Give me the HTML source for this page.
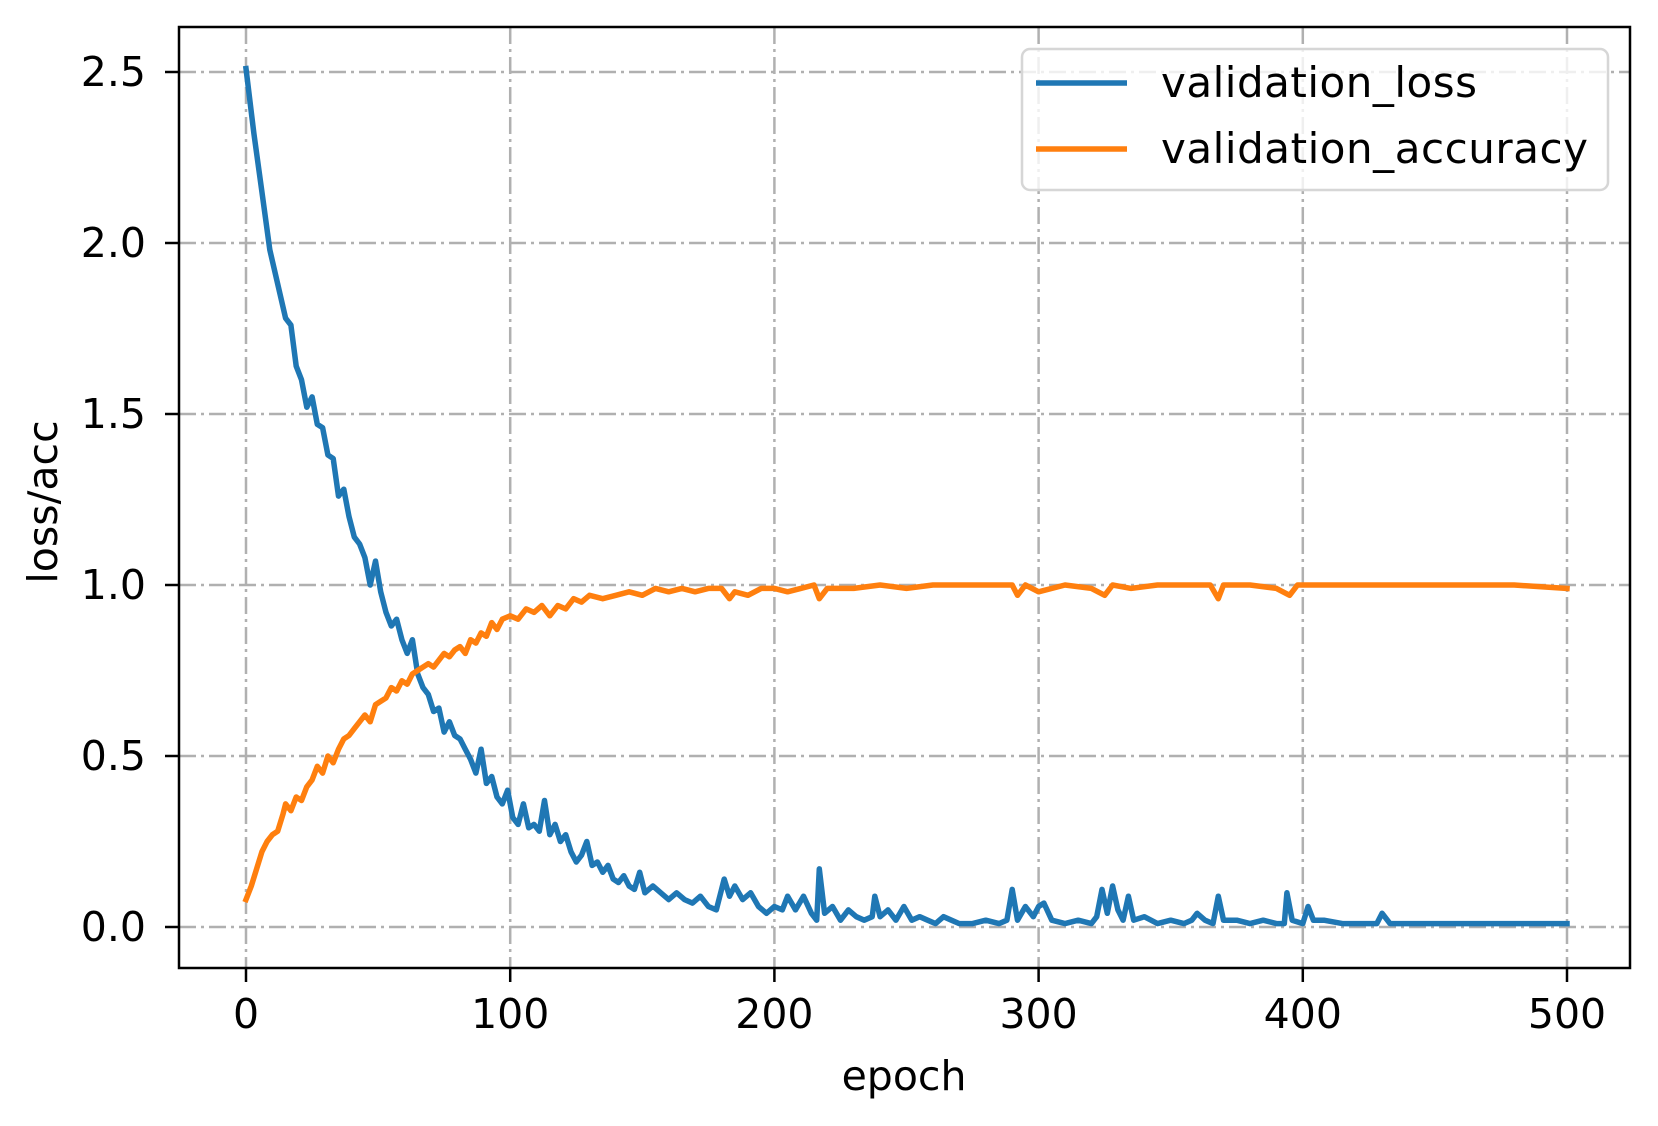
<!DOCTYPE html>
<html><head><meta charset="utf-8"><style>
html,body{margin:0;padding:0;background:#fff;}
svg{display:block;font-family:"DejaVu Sans","Liberation Sans",sans-serif;}
</style></head><body>
<svg id="chart" width="1658" height="1126" viewBox="0 0 1658 1126">
<rect width="1658" height="1126" fill="#fff"/>
<g id="grid"></g>
<g id="series"></g>
<rect x="179" y="27" width="1451" height="941" fill="none" stroke="#000" stroke-width="2.5"/>
<g id="ticks"></g>
<text x="904" y="1090" font-size="41" text-anchor="middle">epoch</text>
<text x="0" y="0" font-size="41" text-anchor="middle" transform="translate(57,502) rotate(-90)">loss/acc</text>
<g>
<rect x="1022" y="49" width="586" height="141" rx="8" fill="#fff" fill-opacity="0.8" stroke="#d6d6d6" stroke-width="2.5"/>
<line x1="1036" y1="83" x2="1127" y2="83" stroke="#1f77b4" stroke-width="5.5"/>
<text x="1161" y="97" font-size="42" textLength="316">validation_loss</text>
<line x1="1036" y1="149" x2="1127" y2="149" stroke="#ff7f0e" stroke-width="5.5"/>
<text x="1161" y="163" font-size="42" textLength="427">validation_accuracy</text>
</g>
</svg>
<script>
const xTicks=[0,100,200,300,400,500];
const yTicks=[0.0,0.5,1.0,1.5,2.0,2.5];
const yTickLabels=["0.0","0.5","1.0","1.5","2.0","2.5"];
const lossEpochs=[0,3,6,9,12,15,17,19,21,23,25,27,29,31,33,35,37,39,41,43,45,47,49,51,53,55,57,59,61,63,65,67,69,71,73,75,77,79,81,83,85,87,89,91,93,95,97,99,101,103,105,107,109,111,113,115,117,119,121,123,125,127,129,131,133,135,137,139,141,143,145,147,149,151,154,157,160,163,166,169,172,175,178,181,183,185,188,191,194,197,200,203,205,208,211,214,216,217,219,222,225,228,231,234,237,238,240,243,246,249,252,255,258,261,264,267,270,275,280,285,288,290,292,295,298,300,302,305,310,315,320,322,324,326,328,330,332,334,336,340,345,350,355,358,360,363,366,368,370,375,380,385,390,393,394,396,400,402,404,408,415,420,428,430,433,440,450,460,470,480,490,500];
const lossValues=[2.51,2.32,2.15,1.98,1.88,1.78,1.76,1.64,1.6,1.52,1.55,1.47,1.46,1.38,1.37,1.26,1.28,1.2,1.14,1.12,1.08,1.0,1.07,0.98,0.92,0.88,0.9,0.84,0.8,0.84,0.74,0.7,0.68,0.63,0.64,0.57,0.6,0.56,0.55,0.52,0.49,0.45,0.52,0.42,0.44,0.38,0.36,0.4,0.32,0.3,0.36,0.29,0.3,0.28,0.37,0.27,0.3,0.25,0.27,0.22,0.19,0.21,0.25,0.18,0.19,0.16,0.18,0.14,0.13,0.15,0.12,0.11,0.16,0.1,0.12,0.1,0.08,0.1,0.08,0.07,0.09,0.06,0.05,0.14,0.09,0.12,0.08,0.1,0.06,0.04,0.06,0.05,0.09,0.05,0.09,0.04,0.02,0.17,0.04,0.06,0.02,0.05,0.03,0.02,0.03,0.09,0.03,0.05,0.02,0.06,0.02,0.03,0.02,0.01,0.03,0.02,0.01,0.01,0.02,0.01,0.02,0.11,0.02,0.06,0.03,0.06,0.07,0.02,0.01,0.02,0.01,0.03,0.11,0.04,0.12,0.05,0.02,0.09,0.02,0.03,0.01,0.02,0.01,0.02,0.04,0.02,0.01,0.09,0.02,0.02,0.01,0.02,0.01,0.01,0.1,0.02,0.01,0.06,0.02,0.02,0.01,0.01,0.01,0.04,0.01,0.01,0.01,0.01,0.01,0.01,0.01,0.01];
const accEpochs=[0,2,4,6,8,10,12,14,15,17,19,21,23,25,27,29,31,33,35,37,39,41,43,45,47,49,51,53,55,57,59,61,63,65,67,69,71,73,75,77,79,81,83,85,87,89,91,93,95,97,100,103,106,109,112,115,118,121,124,127,130,135,140,145,150,155,160,165,170,175,180,183,185,190,195,200,205,210,215,217,220,230,240,250,260,270,280,290,292,295,300,310,320,325,328,335,345,355,365,368,370,380,390,395,398,405,420,440,460,480,500];
const accValues=[0.08,0.12,0.17,0.22,0.25,0.27,0.28,0.33,0.36,0.34,0.38,0.37,0.41,0.43,0.47,0.45,0.5,0.48,0.52,0.55,0.56,0.58,0.6,0.62,0.6,0.65,0.66,0.67,0.7,0.69,0.72,0.71,0.74,0.75,0.76,0.77,0.76,0.78,0.8,0.79,0.81,0.82,0.8,0.84,0.83,0.86,0.85,0.89,0.87,0.9,0.91,0.9,0.93,0.92,0.94,0.91,0.94,0.93,0.96,0.95,0.97,0.96,0.97,0.98,0.97,0.99,0.98,0.99,0.98,0.99,0.99,0.96,0.98,0.97,0.99,0.99,0.98,0.99,1.0,0.96,0.99,0.99,1.0,0.99,1.0,1.0,1.0,1.0,0.97,1.0,0.98,1.0,0.99,0.97,1.0,0.99,1.0,1.0,1.0,0.96,1.0,1.0,0.99,0.97,1.0,1.0,1.0,1.0,1.0,1.0,0.99];

const NS="http://www.w3.org/2000/svg";
const X0=246,X1=1567,Y0=927,Y1=72;
function xs(v){return X0+(v-0)*(X1-X0)/500;}
function ys(v){return Y0-(v-0)*(Y0-Y1)/2.5;}
const grid=document.getElementById('grid'),ticks=document.getElementById('ticks'),series=document.getElementById('series');
function mk(tag,attrs,parent){const e=document.createElementNS(NS,tag);for(const k in attrs)e.setAttribute(k,attrs[k]);parent.appendChild(e);return e;}
xTicks.forEach(t=>{
  const g=mk('line',{x1:xs(t),x2:xs(t),y1:27,y2:968,stroke:'#b0b0b0','stroke-width':2.5,'stroke-dasharray':'17,5,3,5'},grid);
  
  
  const tk=mk('line',{x1:xs(t),x2:xs(t),y1:968,y2:982,stroke:'#000','stroke-width':2.5},ticks);
  
  
  const tx=mk('text',{x:xs(t),y:1028,'font-size':41,'text-anchor':'middle'},ticks);
  tx.textContent=String(t);
  
  
});
yTicks.forEach((t,i)=>{
  const g=mk('line',{x1:179,x2:1630,y1:ys(t),y2:ys(t),stroke:'#b0b0b0','stroke-width':2.5,'stroke-dasharray':'17,5,3,5'},grid);
  
  
  const tk=mk('line',{x1:165,x2:179,y1:ys(t),y2:ys(t),stroke:'#000','stroke-width':2.5},ticks);
  
  
  const tx=mk('text',{x:146,y:ys(t)+14,'font-size':41,'text-anchor':'end'},ticks);
  tx.textContent=yTickLabels[i];
  
  
});
function line(ex,vals,color,name){
  const d=ex.map((e,i)=>(i?'L':'M')+xs(e).toFixed(1)+','+ys(vals[i]).toFixed(1)).join(' ');
  const p=mk('path',{d:d,fill:'none',stroke:color,'stroke-width':5.5,'stroke-linejoin':'round','stroke-linecap':'square'},series);
  
  
}
line(lossEpochs,lossValues,'#1f77b4','validation-loss-line');
line(accEpochs,accValues,'#ff7f0e','validation-accuracy-line');
</script>
</body></html>
